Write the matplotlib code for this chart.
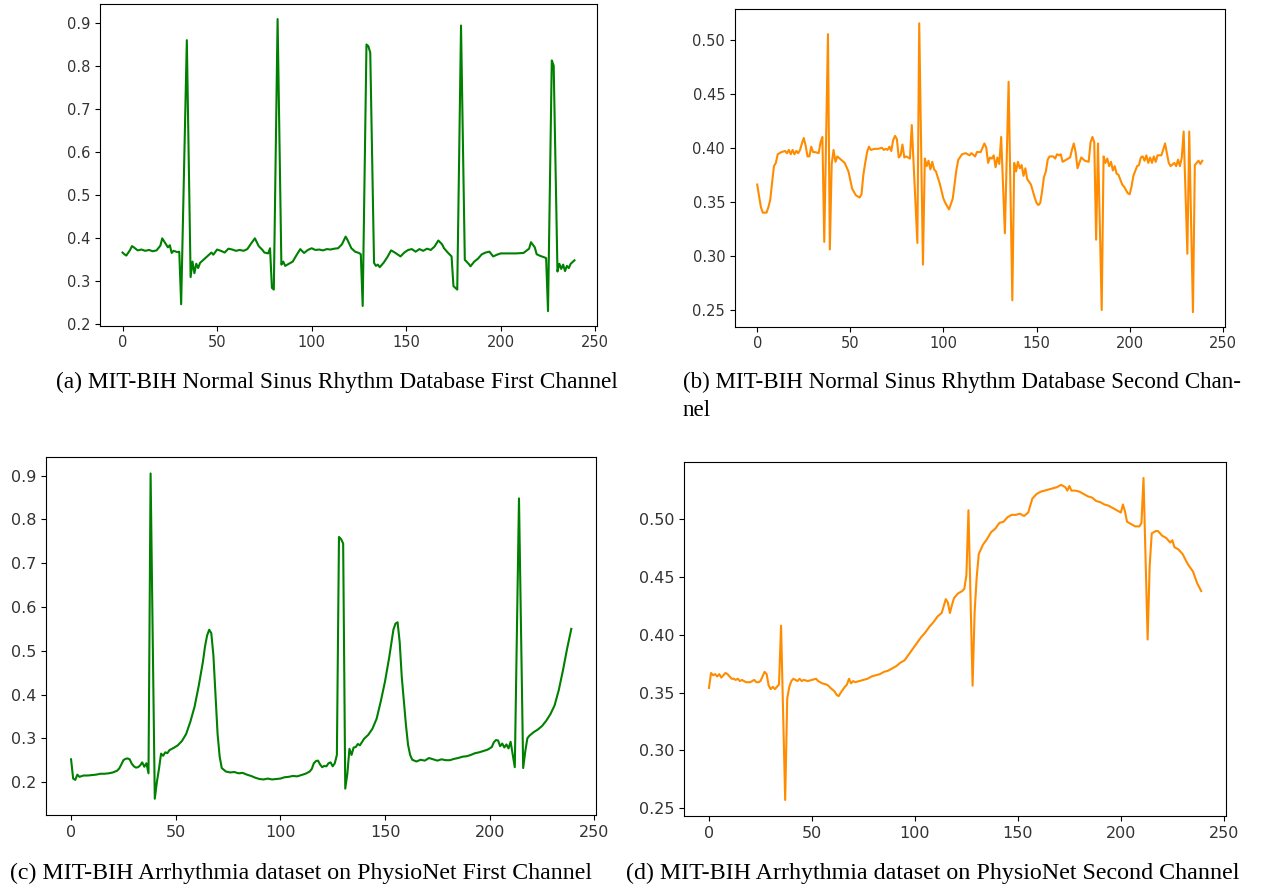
import matplotlib

matplotlib.use("Agg")
import matplotlib.pyplot as plt

# (a) MIT-BIH Normal Sinus Rhythm, first channel
a_idx = [0, 1, 2, 4, 5, 6, 8, 10, 12, 14, 16, 18, 20, 21, 22, 24, 25, 26, 27, 29,
         30, 31, 34, 36, 37, 38, 39, 40, 41, 43, 45, 47, 48, 50, 52, 54, 56, 58, 60, 62,
         64, 66, 68, 70, 72, 74, 75, 77, 78, 79, 80, 82, 84, 85, 86, 88, 90, 92, 94, 96,
         98, 100, 102, 104, 106, 108, 110, 112, 114, 116, 118, 119, 121, 123, 125, 126, 127, 129, 130, 131,
         133, 134, 135, 136, 138, 140, 142, 144, 146, 147, 149, 151, 153, 155, 157, 159, 161, 163, 165, 167,
         169, 170, 172, 174, 175, 177, 179, 181, 183, 184, 186, 188, 190, 192, 194, 196, 198, 200, 204, 208,
         212, 215, 216, 218, 219, 221, 223, 224, 225, 227, 228, 230, 231, 232, 233, 234, 235, 236, 237, 239]
a_val = [0.366, 0.362, 0.359, 0.372, 0.381, 0.378, 0.371, 0.373, 0.370, 0.372, 0.369, 0.371, 0.382, 0.399, 0.392, 0.378, 0.383, 0.365, 0.370, 0.367,
         0.368, 0.246, 0.859, 0.309, 0.345, 0.318, 0.340, 0.330, 0.342, 0.350, 0.358, 0.366, 0.361, 0.373, 0.370, 0.366, 0.375, 0.373, 0.370, 0.372,
         0.370, 0.374, 0.387, 0.399, 0.381, 0.372, 0.366, 0.364, 0.376, 0.284, 0.280, 0.908, 0.338, 0.345, 0.335, 0.340, 0.345, 0.360, 0.374, 0.365,
         0.372, 0.376, 0.372, 0.373, 0.371, 0.374, 0.373, 0.375, 0.376, 0.385, 0.403, 0.395, 0.376, 0.368, 0.365, 0.362, 0.242, 0.849, 0.845, 0.830,
         0.342, 0.335, 0.338, 0.332, 0.342, 0.355, 0.371, 0.366, 0.360, 0.357, 0.366, 0.372, 0.374, 0.368, 0.374, 0.370, 0.375, 0.372, 0.380, 0.394,
         0.385, 0.376, 0.366, 0.357, 0.288, 0.280, 0.893, 0.349, 0.340, 0.334, 0.345, 0.352, 0.362, 0.366, 0.368, 0.357, 0.361, 0.364, 0.364, 0.364,
         0.365, 0.375, 0.390, 0.378, 0.362, 0.358, 0.355, 0.353, 0.230, 0.812, 0.800, 0.322, 0.340, 0.328, 0.338, 0.323, 0.335, 0.330, 0.340, 0.348]

# (b) MIT-BIH Normal Sinus Rhythm, second channel
b_idx = [0, 1, 2, 3, 5, 6, 7, 8, 9, 10, 11, 13, 15, 16, 17, 18, 19, 20, 21, 22,
         23, 24, 25, 26, 27, 28, 29, 30, 31, 33, 34, 35, 36, 38, 39, 40, 41, 42, 43, 45,
         47, 49, 51, 53, 55, 56, 57, 58, 59, 60, 61, 63, 65, 67, 68, 69, 70, 71, 72, 73,
         74, 75, 76, 77, 78, 79, 80, 82, 83, 86, 87, 89, 90, 91, 92, 93, 94, 95, 96, 98,
         100, 101, 103, 105, 107, 108, 110, 112, 114, 115, 117, 118, 120, 122, 123, 124, 125, 126, 127, 128,
         129, 130, 131, 133, 135, 137, 138, 139, 140, 141, 142, 143, 144, 145, 147, 149, 150, 151, 152, 153,
         154, 155, 156, 157, 159, 160, 161, 162, 163, 164, 166, 168, 169, 170, 171, 172, 173, 174, 176, 178,
         179, 180, 181, 182, 183, 185, 186, 187, 188, 189, 190, 191, 192, 193, 194, 196, 197, 199, 200, 201,
         202, 204, 205, 206, 207, 208, 209, 210, 211, 212, 213, 214, 215, 217, 218, 219, 220, 221, 222, 224,
         225, 226, 227, 228, 229, 231, 232, 234, 235, 237, 238, 239]
b_val = [0.366, 0.355, 0.345, 0.340, 0.340, 0.345, 0.352, 0.368, 0.383, 0.386, 0.394, 0.396, 0.397, 0.395, 0.398, 0.394, 0.398, 0.394, 0.397, 0.395,
         0.398, 0.404, 0.409, 0.402, 0.392, 0.392, 0.401, 0.396, 0.396, 0.395, 0.405, 0.410, 0.313, 0.505, 0.306, 0.385, 0.398, 0.387, 0.392, 0.389,
         0.386, 0.378, 0.362, 0.356, 0.354, 0.357, 0.375, 0.386, 0.396, 0.401, 0.398, 0.399, 0.399, 0.400, 0.398, 0.399, 0.398, 0.401, 0.397, 0.407,
         0.411, 0.408, 0.391, 0.393, 0.403, 0.391, 0.392, 0.390, 0.421, 0.312, 0.515, 0.292, 0.390, 0.383, 0.388, 0.380, 0.387, 0.380, 0.378, 0.367,
         0.353, 0.349, 0.343, 0.353, 0.380, 0.389, 0.394, 0.395, 0.393, 0.395, 0.392, 0.396, 0.396, 0.404, 0.400, 0.386, 0.391, 0.390, 0.393, 0.382,
         0.391, 0.385, 0.410, 0.321, 0.461, 0.259, 0.386, 0.378, 0.387, 0.381, 0.384, 0.374, 0.381, 0.371, 0.366, 0.354, 0.349, 0.347, 0.349, 0.360,
         0.373, 0.378, 0.389, 0.392, 0.392, 0.390, 0.394, 0.393, 0.394, 0.387, 0.389, 0.391, 0.398, 0.404, 0.396, 0.381, 0.386, 0.391, 0.388, 0.387,
         0.405, 0.410, 0.405, 0.315, 0.404, 0.250, 0.392, 0.386, 0.390, 0.383, 0.387, 0.379, 0.383, 0.376, 0.375, 0.366, 0.364, 0.358, 0.357, 0.364,
         0.374, 0.383, 0.384, 0.391, 0.392, 0.388, 0.393, 0.386, 0.391, 0.386, 0.392, 0.387, 0.393, 0.393, 0.398, 0.404, 0.395, 0.386, 0.383, 0.386,
         0.383, 0.389, 0.383, 0.391, 0.415, 0.302, 0.415, 0.248, 0.384, 0.388, 0.385, 0.388]

# (c) MIT-BIH Arrhythmia, first channel
c_idx = [0, 1, 2, 3, 4, 6, 8, 10, 12, 14, 16, 18, 20, 22, 23, 24, 25, 26, 27, 28,
         29, 30, 31, 32, 33, 34, 35, 36, 37, 38, 40, 41, 42, 43, 44, 45, 46, 47, 49, 51,
         53, 55, 57, 59, 61, 63, 64, 65, 66, 67, 68, 69, 70, 71, 72, 74, 76, 78, 80, 82,
         84, 86, 88, 90, 92, 94, 96, 98, 100, 102, 104, 106, 108, 110, 112, 114, 115, 116, 117, 118,
         119, 120, 121, 122, 123, 124, 125, 126, 127, 128, 129, 130, 131, 132, 133, 134, 135, 136, 137, 138,
         140, 142, 144, 146, 148, 150, 152, 154, 155, 156, 157, 158, 159, 160, 161, 162, 163, 165, 167, 169,
         171, 173, 175, 177, 179, 181, 183, 185, 187, 189, 191, 193, 195, 197, 199, 201, 202, 203, 204, 205,
         206, 207, 208, 209, 210, 212, 214, 216, 217, 218, 219, 221, 223, 225, 227, 229, 231, 233, 235, 237,
         239]
c_val = [0.252, 0.208, 0.205, 0.217, 0.212, 0.215, 0.215, 0.216, 0.217, 0.219, 0.219, 0.220, 0.222, 0.226, 0.231, 0.240, 0.250, 0.253, 0.254, 0.252,
         0.242, 0.236, 0.233, 0.234, 0.238, 0.245, 0.235, 0.243, 0.220, 0.905, 0.162, 0.200, 0.230, 0.265, 0.260, 0.268, 0.266, 0.273, 0.278, 0.284,
         0.294, 0.310, 0.338, 0.372, 0.420, 0.475, 0.510, 0.535, 0.548, 0.540, 0.490, 0.400, 0.310, 0.258, 0.232, 0.224, 0.222, 0.223, 0.220, 0.221,
         0.217, 0.214, 0.210, 0.207, 0.206, 0.208, 0.206, 0.207, 0.208, 0.211, 0.212, 0.214, 0.213, 0.216, 0.219, 0.224, 0.230, 0.243, 0.248, 0.249,
         0.240, 0.234, 0.237, 0.236, 0.243, 0.245, 0.236, 0.243, 0.262, 0.760, 0.755, 0.745, 0.185, 0.219, 0.276, 0.262, 0.279, 0.280, 0.287, 0.284,
         0.299, 0.308, 0.322, 0.345, 0.385, 0.430, 0.485, 0.548, 0.562, 0.565, 0.520, 0.440, 0.386, 0.330, 0.285, 0.262, 0.251, 0.247, 0.251, 0.249,
         0.255, 0.252, 0.249, 0.252, 0.250, 0.250, 0.253, 0.255, 0.258, 0.259, 0.262, 0.266, 0.268, 0.271, 0.274, 0.280, 0.291, 0.296, 0.295, 0.282,
         0.288, 0.279, 0.286, 0.277, 0.292, 0.234, 0.848, 0.232, 0.270, 0.300, 0.306, 0.314, 0.320, 0.328, 0.340, 0.355, 0.375, 0.410, 0.455, 0.505,
         0.550]

# (d) MIT-BIH Arrhythmia, second channel
d_idx = [0, 1, 2, 3, 4, 5, 6, 7, 8, 9, 10, 11, 12, 13, 14, 15, 16, 18, 20, 21,
         22, 23, 24, 25, 26, 27, 28, 29, 30, 31, 32, 33, 34, 35, 37, 38, 39, 40, 41, 42,
         43, 44, 45, 46, 48, 50, 52, 53, 55, 57, 58, 59, 61, 62, 63, 64, 66, 67, 68, 69,
         70, 71, 73, 75, 77, 79, 81, 83, 85, 87, 89, 91, 93, 95, 97, 99, 101, 103, 105, 107,
         109, 111, 113, 114, 115, 116, 117, 118, 119, 121, 123, 124, 125, 126, 128, 129, 130, 131, 133, 135,
         137, 139, 141, 143, 145, 147, 149, 151, 153, 155, 156, 157, 159, 161, 163, 165, 167, 169, 171, 173,
         174, 175, 176, 178, 180, 182, 184, 186, 188, 190, 192, 194, 196, 198, 200, 201, 202, 203, 205, 207,
         209, 210, 211, 213, 214, 215, 217, 218, 220, 222, 224, 225, 226, 228, 230, 232, 233, 235, 237, 239]
d_val = [0.354, 0.367, 0.365, 0.366, 0.364, 0.366, 0.363, 0.365, 0.367, 0.366, 0.364, 0.362, 0.362, 0.361, 0.362, 0.360, 0.361, 0.359, 0.359, 0.360,
         0.361, 0.359, 0.359, 0.360, 0.364, 0.368, 0.366, 0.356, 0.353, 0.355, 0.353, 0.355, 0.357, 0.408, 0.257, 0.345, 0.355, 0.360, 0.362, 0.361,
         0.360, 0.362, 0.360, 0.361, 0.360, 0.361, 0.362, 0.360, 0.358, 0.357, 0.356, 0.354, 0.351, 0.348, 0.347, 0.350, 0.355, 0.357, 0.362, 0.358,
         0.360, 0.359, 0.360, 0.361, 0.362, 0.364, 0.365, 0.366, 0.368, 0.369, 0.371, 0.373, 0.376, 0.378, 0.383, 0.388, 0.393, 0.398, 0.402, 0.407,
         0.411, 0.416, 0.419, 0.425, 0.431, 0.428, 0.419, 0.426, 0.432, 0.436, 0.438, 0.440, 0.452, 0.508, 0.356, 0.420, 0.450, 0.470, 0.478, 0.483,
         0.489, 0.492, 0.497, 0.498, 0.502, 0.504, 0.504, 0.505, 0.503, 0.506, 0.512, 0.518, 0.522, 0.524, 0.525, 0.526, 0.527, 0.528, 0.530, 0.528,
         0.525, 0.529, 0.525, 0.525, 0.524, 0.522, 0.520, 0.519, 0.516, 0.515, 0.513, 0.512, 0.510, 0.508, 0.506, 0.513, 0.507, 0.498, 0.496, 0.494,
         0.494, 0.497, 0.536, 0.396, 0.460, 0.488, 0.490, 0.490, 0.486, 0.484, 0.480, 0.482, 0.476, 0.474, 0.470, 0.463, 0.460, 0.455, 0.445, 0.438]

captions = [
    "(a) MIT-BIH Normal Sinus Rhythm Database First Channel",
    "(b) MIT-BIH Normal Sinus Rhythm Database Second Chan-",
    "nel",
    "(c) MIT-BIH Arrhythmia dataset on PhysioNet First Channel",
    "(d) MIT-BIH Arrhythmia dataset on PhysioNet Second Channel",
]

fig = plt.figure(figsize=(12.65, 8.9), dpi=100)

panels = [
    (a_idx, a_val, "green", [0.079, 0.634, 0.393, 0.361], 10.5),
    (b_idx, b_val, "darkorange", [0.581, 0.633, 0.387, 0.357], 10.5),
    (c_idx, c_val, "green", [0.0364, 0.0843, 0.435, 0.402], 11.5),
    (d_idx, d_val, "darkorange", [0.541, 0.0831, 0.428, 0.398], 11.5),
]
for idx, val, color, rect, fs in panels:
    ax = fig.add_axes(rect)
    ax.plot(idx, val, color=color, linewidth=1.5)
    ax.set_xticks([0, 50, 100, 150, 200, 250])
    ax.tick_params(labelsize=fs, labelcolor="#333333")

for ax in (fig.axes[1], fig.axes[3]):
    ax.set_yticks([0.25, 0.30, 0.35, 0.40, 0.45, 0.50])
    ax.set_yticklabels(["0.25", "0.30", "0.35", "0.40", "0.45", "0.50"])

cap_kw = dict(fontfamily="Liberation Serif", va="center", ha="left")
fig.text(56 / 1265, 1 - 382 / 890, captions[0], fontsize=16.8, **cap_kw)
fig.text(683 / 1265, 1 - 382 / 890, captions[1], fontsize=16.6, **cap_kw)
fig.text(683 / 1265, 1 - 410 / 890, captions[2], fontsize=16.6, **cap_kw)
fig.text(10 / 1265, 1 - 873 / 890, captions[3], fontsize=17.2, **cap_kw)
fig.text(626 / 1265, 1 - 873 / 890, captions[4], fontsize=17.3, **cap_kw)

fig.savefig("out.png", dpi=100)
plt.close(fig)
